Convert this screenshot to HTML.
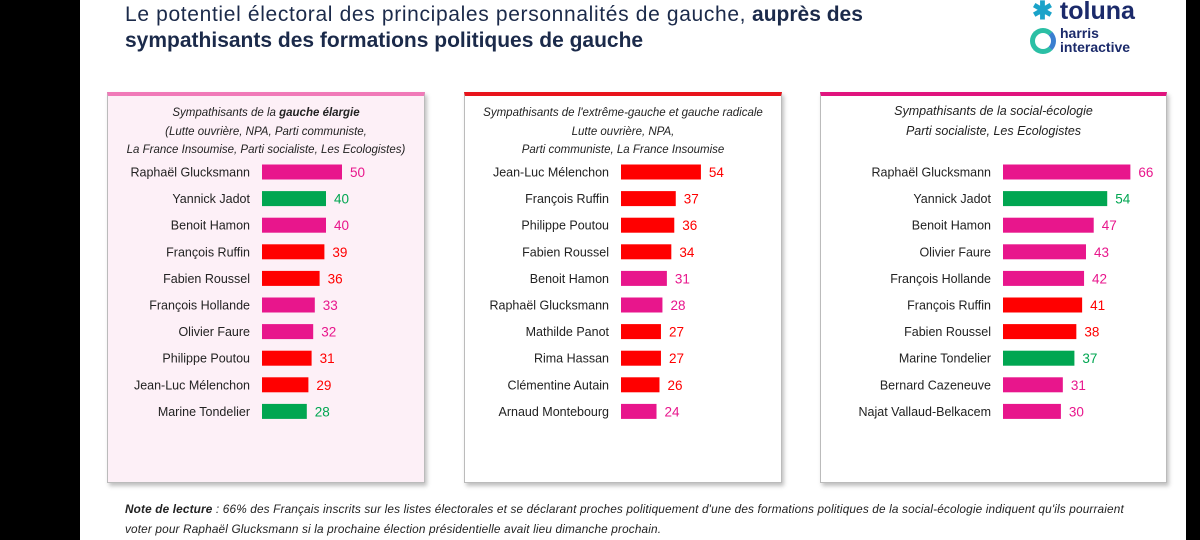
<!DOCTYPE html>
<html><head><meta charset="utf-8"><style>
body{margin:0;width:1200px;height:540px;overflow:hidden;background:#000;font-family:"Liberation Sans",sans-serif;}
#page{position:absolute;left:80px;top:0;width:1106px;height:540px;background:#fff;}
.title{position:absolute;left:45px;top:2px;font-size:21px;color:#1b2a4a;line-height:26px;}
.panel{position:absolute;top:92px;height:386px;border:1px solid #bbb;box-shadow:2px 3px 4px rgba(0,0,0,.25);}
.sub{position:absolute;left:0;right:0;text-align:center;font-style:italic;font-size:11.5px;line-height:18.5px;color:#222;top:8px;}
.note{position:absolute;left:45px;top:499px;font-size:11.8px;letter-spacing:0.15px;font-style:italic;color:#222;line-height:20px;width:1060px;white-space:nowrap;}
</style></head><body>
<div id="page">
<div class="title"><span style="letter-spacing:0.65px">Le potentiel électoral des principales personnalités de gauche,</span> <b>auprès des<br>sympathisants des formations politiques de gauche</b></div>
<div style="position:absolute;left:952px;top:-4px;font-size:25px;font-weight:bold;color:#1b2a6a;"><span style="color:#1aa3c9">✱</span> toluna</div>
<div style="position:absolute;left:950px;top:26px;">
<div style="position:absolute;left:0;top:2px;width:16px;height:16px;border:5px solid #2bbfa5;border-radius:50%;border-right-color:#3a7fd0;"></div>
<div style="position:absolute;left:30px;top:0;font-size:14px;font-weight:bold;color:#1b2a6a;line-height:14px;">harris<br>interactive</div></div>

<div class="panel" style="left:27px;width:316px;background:#fdf0f7;border-top:4px solid #f07ab8;">
<div class="sub">Sympathisants de la <b>gauche élargie</b><br>(Lutte ouvrière, NPA, Parti communiste,<br>La France Insoumise, Parti socialiste, Les Ecologistes)</div></div>
<div class="panel" style="left:384px;width:316px;background:#fff;border-top:4px solid #e8141c;">
<div class="sub">Sympathisants de l'extrême-gauche et gauche radicale<br>Lutte ouvrière, NPA,<br>Parti communiste, La France Insoumise</div></div>
<div class="panel" style="left:740px;width:345px;background:#fff;border-top:4px solid #e0147e;">
<div class="sub" style="top:5px;font-size:12.5px;line-height:20px">Sympathisants de la social-écologie<br>Parti socialiste, Les Ecologistes</div></div>

<svg id="chart" width="1106" height="540" style="position:absolute;left:0;top:0"></svg>

<div class="note"><b>Note de lecture</b> : 66% des Français inscrits sur les listes électorales et se déclarant proches politiquement d'une des formations politiques de la social-écologie indiquent qu'ils pourraient<br>voter pour Raphaël Glucksmann si la prochaine élection présidentielle avait lieu dimanche prochain.</div>
</div>
<script>
const names1=["Raphaël Glucksmann","Yannick Jadot","Benoit Hamon","François Ruffin","Fabien Roussel","François Hollande","Olivier Faure","Philippe Poutou","Jean-Luc Mélenchon","Marine Tondelier"];
const values1=[50,40,40,39,36,33,32,31,29,28];
const colors1=["p","g","p","r","r","p","p","r","r","g"];
const names2=["Jean-Luc Mélenchon","François Ruffin","Philippe Poutou","Fabien Roussel","Benoit Hamon","Raphaël Glucksmann","Mathilde Panot","Rima Hassan","Clémentine Autain","Arnaud Montebourg"];
const values2=[54,37,36,34,31,28,27,27,26,24];
const colors2=["r","r","r","r","p","p","r","r","r","p"];
const names3=["Raphaël Glucksmann","Yannick Jadot","Benoit Hamon","Olivier Faure","François Hollande","François Ruffin","Fabien Roussel","Marine Tondelier","Bernard Cazeneuve","Najat Vallaud-Belkacem"];
const values3=[66,54,47,43,42,41,38,37,31,30];
const colors3=["p","g","p","p","p","r","r","g","p","p"];
const pal={p:"#e8168c",g:"#00a651",r:"#ff0000"};
const svg=document.getElementById('chart');
const NS="http://www.w3.org/2000/svg";
function draw(names,vals,cols,x0,scale,id){
  vals.forEach((v,i)=>{
    const yc=172+i*26.6;
    const t=document.createElementNS(NS,'text');
    
    
    t.setAttribute('x',x0-12);t.setAttribute('y',yc+4.5);t.setAttribute('text-anchor','end');
    t.setAttribute('font-size','12.5');t.setAttribute('fill','#222');t.textContent=names[i];svg.appendChild(t);
    const r=document.createElementNS(NS,'rect');
    
    
    r.setAttribute('x',x0);r.setAttribute('y',yc-7.5);r.setAttribute('width',v*scale);r.setAttribute('height',15);
    r.setAttribute('fill',pal[cols[i]]);svg.appendChild(r);
    const l=document.createElementNS(NS,'text');
    
    
    l.setAttribute('x',x0+v*scale+8);l.setAttribute('y',yc+5);l.setAttribute('font-size','13.5');
    l.setAttribute('fill',pal[cols[i]]);l.textContent=v;svg.appendChild(l);
  });
}
draw(names1,values1,colors1,182,1.6,'a');
draw(names2,values2,colors2,541,1.48,'b');
draw(names3,values3,colors3,923,1.93,'c');
</script>
</body></html>
